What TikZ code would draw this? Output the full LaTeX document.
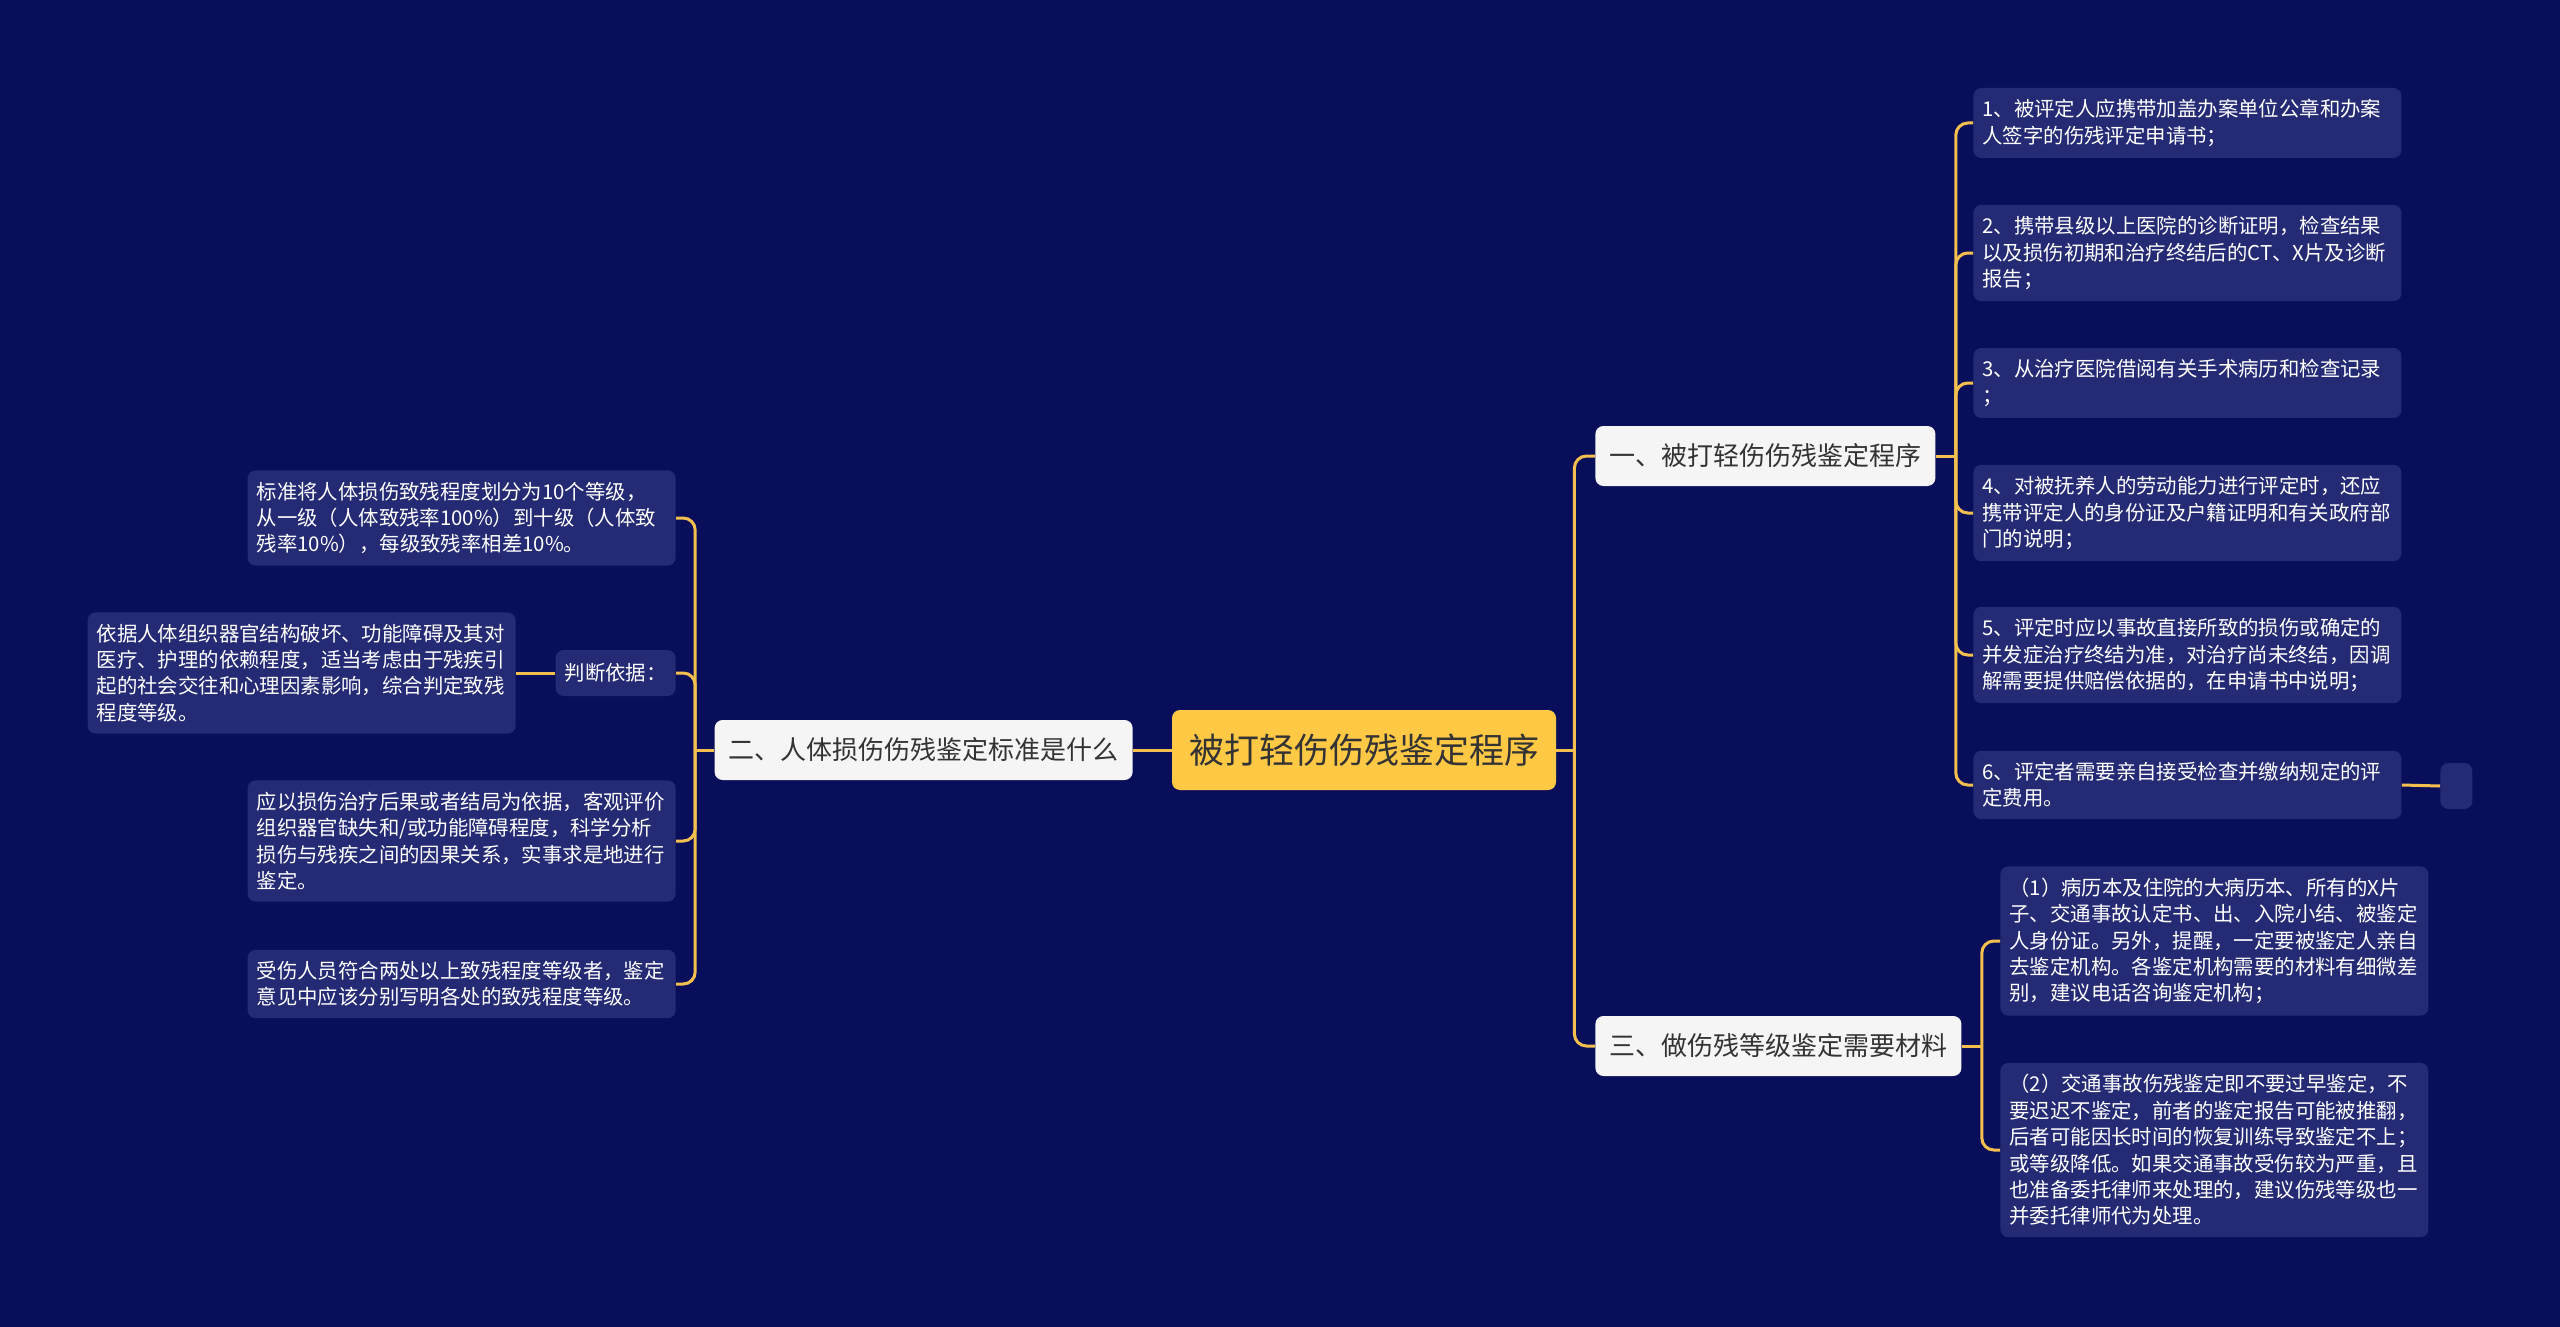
\documentclass[tikz,border=0pt]{standalone}
\usepackage{fontspec}
\setmainfont{Noto Sans CJK SC}
\usepackage{tikz}
\definecolor{navy}{HTML}{090E5A}
\definecolor{leafblue}{HTML}{242A74}
\definecolor{gold}{HTML}{F3C04F}
\definecolor{rootgold}{HTML}{FFC845}
\definecolor{paper}{HTML}{F5F5F5}
\definecolor{ink}{HTML}{333333}
\tikzset{every picture/.style={x=0.5pt, y=-0.5pt}}
\tikzset{every node/.style={rounded corners=4pt, inner sep=0pt}}
\tikzset{link/.style={draw=gold, line width=1.5pt, rounded corners=6pt}}
\tikzset{leaf/.style={fill=leafblue, text=white, font=\fontsize{10.2}{13.2}\selectfont, align=left, text width=205pt, inner xsep=4.5pt, inner ysep=5.75pt}}
\tikzset{tag/.style={fill=leafblue, text=white, font=\fontsize{10.2}{13.2}\selectfont, minimum width=60pt, minimum height=23pt}}
\tikzset{branch/.style={fill=paper, text=ink, font=\fontsize{13}{15}\selectfont, inner xsep=7pt, minimum height=30pt}}
\tikzset{topic/.style={fill=rootgold, text=ink, font=\fontsize{17.5}{20}\selectfont, inner xsep=8.5pt, minimum height=40pt}}

\begin{document}
\begin{tikzpicture}
\fill[navy] (0,0) rectangle (2560,1327);
\useasboundingbox (0,0) rectangle (2560,1327);
\node[topic] (root) at (1364,750) {被打轻伤伤残鉴定程序};
\node[branch, anchor=west] (b1) at (1595,456) {一、被打轻伤伤残鉴定程序};
\node[branch, anchor=east] (b2) at (1133,750) {二、人体损伤伤残鉴定标准是什么};
\node[branch, anchor=west] (b3) at (1595,1046) {三、做伤残等级鉴定需要材料};
\node[leaf, anchor=west] (r1) at (1973,123) {1、被评定人应携带加盖办案单位公章和办案\\人签字的伤残评定申请书；};
\node[leaf, anchor=west] (r2) at (1973,253) {2、携带县级以上医院的诊断证明，检查结果\\以及损伤初期和治疗终结后的CT、X片及诊断\\报告；};
\node[leaf, anchor=west] (r3) at (1973,383) {3、从治疗医院借阅有关手术病历和检查记录\\；};
\node[leaf, anchor=west] (r4) at (1973,513) {4、对被抚养人的劳动能力进行评定时，还应\\携带评定人的身份证及户籍证明和有关政府部\\门的说明；};
\node[leaf, anchor=west] (r5) at (1973,655) {5、评定时应以事故直接所致的损伤或确定的\\并发症治疗终结为准，对治疗尚未终结，因调\\解需要提供赔偿依据的，在申请书中说明；};
\node[leaf, anchor=west] (r6) at (1973,785) {6、评定者需要亲自接受检查并缴纳规定的评\\定费用。};
\node[tag, minimum width=16pt, anchor=west] (r7) at (2440,786) {};
\node[leaf, anchor=west] (m1) at (2000,941) {（1）病历本及住院的大病历本、所有的X片\\子、交通事故认定书、出、入院小结、被鉴定\\人身份证。另外，提醒，一定要被鉴定人亲自\\去鉴定机构。各鉴定机构需要的材料有细微差\\别，建议电话咨询鉴定机构；};
\node[leaf, anchor=west] (m2) at (2000,1150) {（2）交通事故伤残鉴定即不要过早鉴定，不\\要迟迟不鉴定，前者的鉴定报告可能被推翻，\\后者可能因长时间的恢复训练导致鉴定不上；\\或等级降低。如果交通事故受伤较为严重，且\\也准备委托律师来处理的，建议伤残等级也一\\并委托律师代为处理。};
\node[leaf, anchor=east] (l1) at (676,518) {标准将人体损伤致残程度划分为10个等级，\\从一级（人体致残率100\%）到十级（人体致\\残率10\%），每级致残率相差10\%。};
\node[tag, anchor=east] (jd) at (676,673) {判断依据：};
\node[leaf, anchor=east] (l2) at (516,673) {依据人体组织器官结构破坏、功能障碍及其对\\医疗、护理的依赖程度，适当考虑由于残疾引\\起的社会交往和心理因素影响，综合判定致残\\程度等级。};
\node[leaf, anchor=east] (l3) at (676,841) {应以损伤治疗后果或者结局为依据，客观评价\\组织器官缺失和/或功能障碍程度，科学分析\\损伤与残疾之间的因果关系，实事求是地进行\\鉴定。};
\node[leaf, anchor=east] (l4) at (676,984) {受伤人员符合两处以上致残程度等级者，鉴定\\意见中应该分别写明各处的致残程度等级。};
\draw[link] (root.west) -- (b2.east);
\draw[link] (root.east) -- ++(18,0) coordinate (rj);
\foreach \b in {b1,b3} \draw[link] (rj) |- (\b.west);
\draw[link] (b1.east) -- ++(20,0) coordinate (j1);
\foreach \i in {1,...,6} \draw[link] (j1) |- (r\i.west);
\draw[link] (b3.east) -- ++(20,0) coordinate (j3);
\foreach \i in {1,2} \draw[link] (j3) |- (m\i.west);
\draw[link] (b2.west) -- ++(-19,0) coordinate (j2);
\foreach \n in {l1,jd,l3,l4} \draw[link] (j2) |- (\n.east);
\draw[link] (jd.west) -- (l2.east);
\draw[link] (r6.east) -- (r7.west);
\end{tikzpicture}
\end{document}
